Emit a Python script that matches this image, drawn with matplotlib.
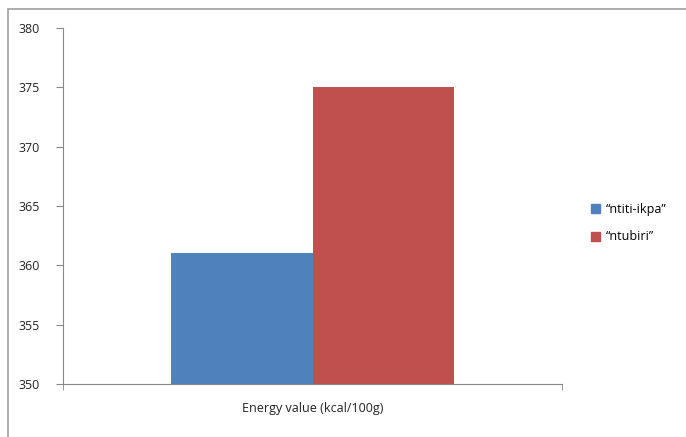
import matplotlib
matplotlib.use("Agg")
import matplotlib.pyplot as plt
from matplotlib.patches import Rectangle, Patch

category = "Energy value (kcal/100g)"
series = ["\u201cntiti-ikpa\u201d", "\u201cntubiri\u201d"]
values = [361, 375]
colors = ["#4F81BD", "#C0504D"]
yticks = [350, 355, 360, 365, 370, 375, 380]

plt.rcParams["font.family"] = ["Open Sans", "DejaVu Sans"]

fig = plt.figure(figsize=(6.86, 4.37), dpi=100)
# outer chart frame
fig.patches.append(Rectangle((8 / 686, -0.1), 1.2, 1 - 9 / 437 + 0.1,
                             transform=fig.transFigure, fill=False,
                             edgecolor="#a0a0a0", linewidth=1.2))

ax = fig.add_axes([63 / 686, 1 - 384 / 437, 499 / 686, 356 / 437])
width = 0.2836
offsets = [-width / 2, width / 2]
for name, val, col, off in zip(series, values, colors, offsets):
    ax.bar(off, val - 350, bottom=350, width=width, color=col, label=name)

ax.set_xlim(-0.5, 0.5)
ax.set_ylim(350, 380)
ax.set_yticks(yticks)
ax.set_xticks([0])
ax.set_xticklabels([category])
ax.set_xticks([-0.5, 0.5], minor=True)
ax.tick_params(axis="x", which="major", length=0, pad=13, labelsize=9,
               labelcolor="#222222")
ax.tick_params(axis="x", which="minor", length=4, color="#888888")
ax.tick_params(axis="y", length=5, color="#888888", labelsize=9,
               labelcolor="#222222", pad=12)
for s in ["top", "right"]:
    ax.spines[s].set_visible(False)
ax.spines["left"].set_color("#888888")
ax.spines["bottom"].set_color("#888888")

handles = [Patch(color=c, label=n) for n, c in zip(series, colors)]
fig.legend(handles=handles, loc="center left", bbox_to_anchor=(580 / 686, 1 - 223 / 437),
           frameon=False, fontsize=9, handlelength=0.7, handleheight=0.7,
           handletextpad=0.5, labelspacing=1.2)

fig.savefig("out.png", dpi=100)
